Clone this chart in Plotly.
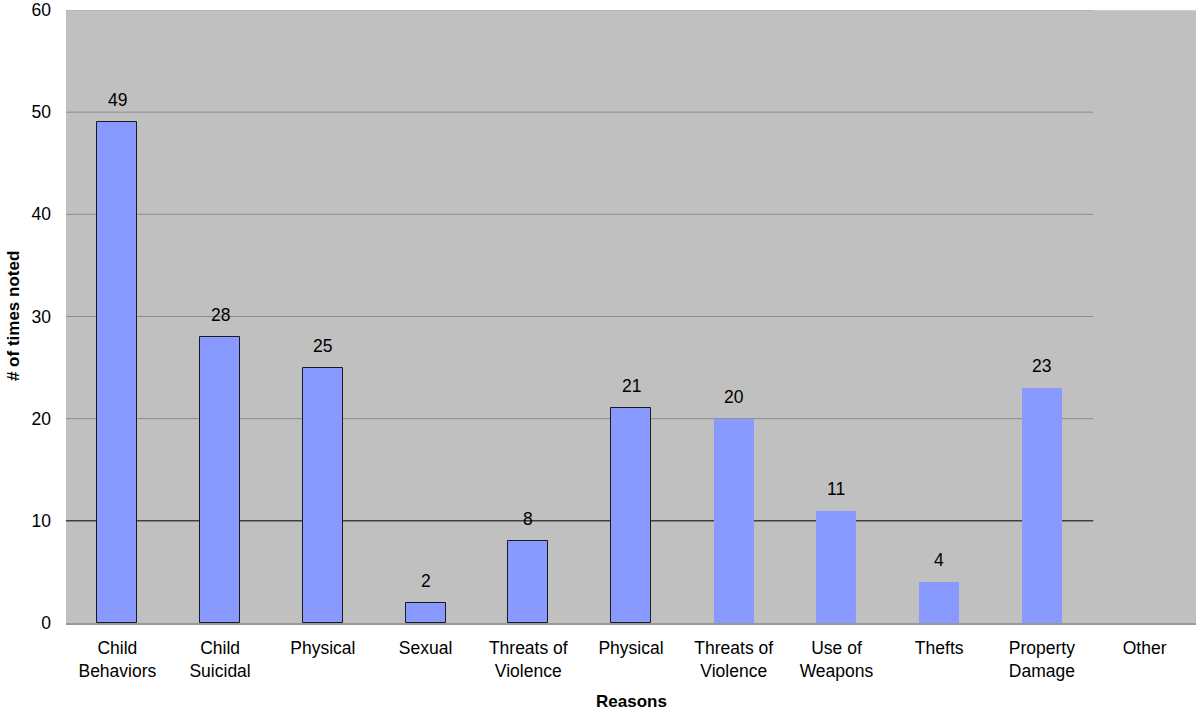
import plotly.graph_objects as go

# Reasons and counts
categories = ["Child<br>Behaviors", "Child<br>Suicidal", "Physical", "Sexual",
              "Threats of<br>Violence", "Physical", "Threats of<br>Violence",
              "Use of<br>Weapons", "Thefts", "Property<br>Damage", "Other"]
counts = [49, 28, 25, 2, 8, 21, 20, 11, 4, 23, None]
y_ticks = [0, 10, 20, 30, 40, 50, 60]

positions = list(range(len(categories)))
outline_widths = [1 if i < 6 else 0 for i in positions]

FONT = "Liberation Sans, Arial, sans-serif"
TXT = 17.5

fig = go.Figure()
fig.add_trace(go.Bar(
    x=positions,
    y=counts,
    width=0.39,
    marker=dict(color="#8899ff", line=dict(color="#1a1a1a", width=outline_widths)),
    hoverinfo="skip",
))

# value labels above each bar
for xi, v in zip(positions, counts):
    if v is None:
        continue
    fig.add_annotation(x=xi, y=v, text=str(v), showarrow=False,
                       yanchor="bottom", yshift=10,
                       font=dict(family=FONT, size=TXT, color="#000000"))

# horizontal gridlines across the filled categories
grid_end = 9.5
for t in y_ticks[1:]:
    if t == 10:
        col = "#000000"
    elif t == 60:
        col = "#a8a8a8"
    else:
        col = "#8c8c8c"
    fig.add_shape(type="line", xref="x", yref="y", x0=-0.5, x1=grid_end,
                  y0=t, y1=t, line=dict(color=col, width=1), layer="below")
fig.add_shape(type="line", xref="x", yref="y", x0=grid_end, x1=10.5,
              y0=60, y1=60, line=dict(color="#dcdcdc", width=1), layer="below")

# axis titles
fig.add_annotation(text="<b>Reasons</b>", xref="paper", yref="paper",
                   x=0.5, y=-0.128, showarrow=False, yanchor="middle",
                   font=dict(family=FONT, size=17, color="#000000"))
fig.add_annotation(text="<b># of times noted</b>", xref="paper", yref="paper",
                   x=-0.0464, y=0.5, showarrow=False, textangle=-90,
                   xanchor="center", yanchor="middle",
                   font=dict(family=FONT, size=17, color="#000000"))

fig.update_layout(
    width=1196, height=712,
    margin=dict(l=66, r=0, t=8, b=89),
    paper_bgcolor="#ffffff",
    plot_bgcolor="#c0c0c0",
    showlegend=False,
    bargap=0,
    font=dict(family=FONT, size=TXT, color="#000000"),
    xaxis=dict(
        range=[-0.5, 10.5],
        tickmode="array", tickvals=positions, ticktext=categories,
        showgrid=False, zeroline=False,
        showline=True, linecolor="#999999", linewidth=2,
        ticks="", tickfont=dict(size=TXT), ticklabelstandoff=8,
    ),
    yaxis=dict(
        range=[0, 60.0001],
        tickmode="array", tickvals=y_ticks,
        showgrid=False, zeroline=False, showline=False,
        ticks="", tickfont=dict(size=TXT), ticklabelstandoff=14,
        ticklabeloverflow="allow",
    ),
)

fig.write_html("out.html")
